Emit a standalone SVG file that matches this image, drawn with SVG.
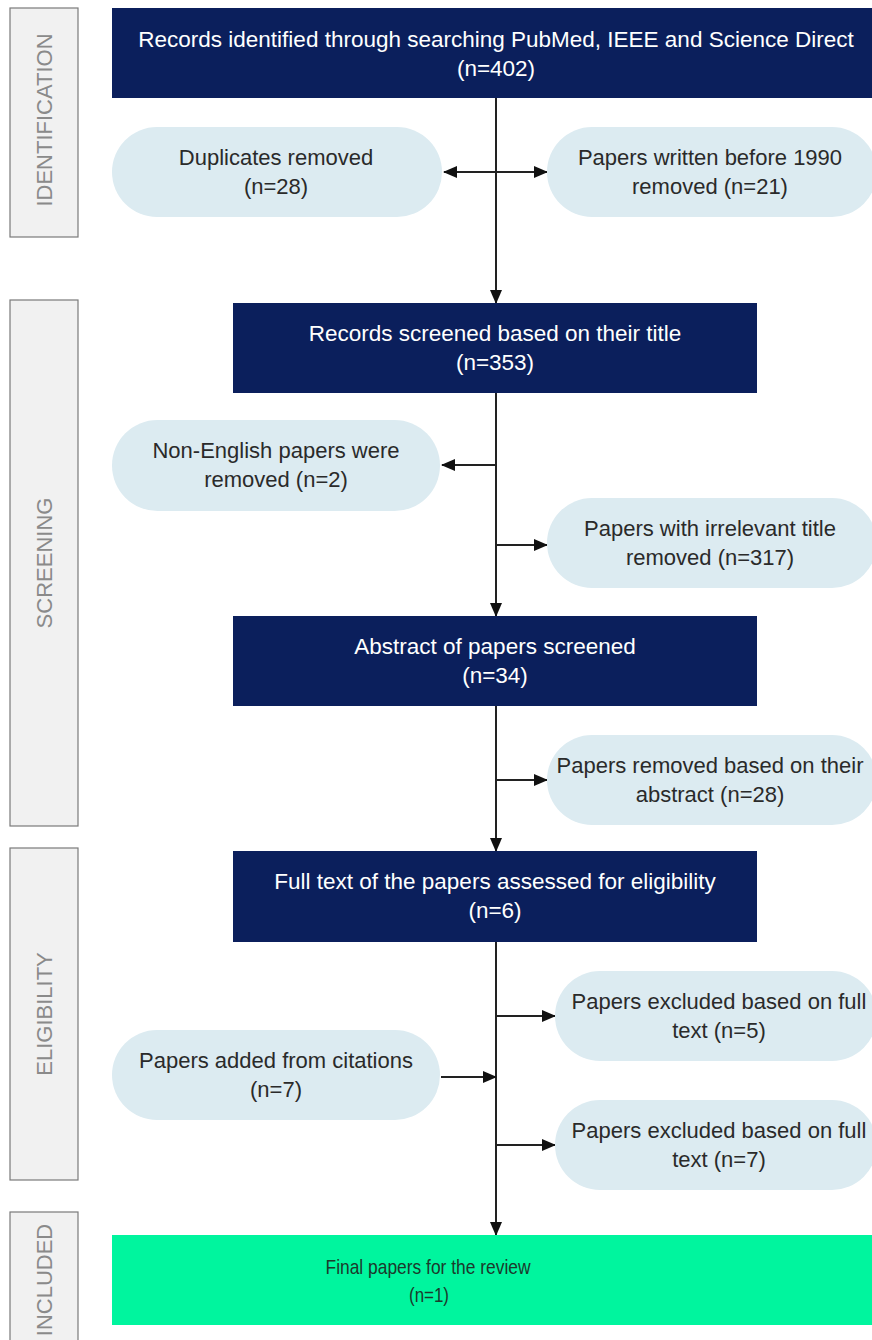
<svg xmlns="http://www.w3.org/2000/svg" width="872" height="1340" viewBox="0 0 872 1340">
<style>
.stage{fill:#f1f1f1;stroke:#7a7a7a;stroke-width:1.2}
.stxt{font-family:"Liberation Sans",Arial,sans-serif;font-size:22px;fill:#8a8a8a;text-anchor:middle}
.main{fill:#0b1f5c}
.mtxt{font-family:"Liberation Sans",Arial,sans-serif;font-size:22.5px;fill:#ffffff;text-anchor:middle}
.pill{fill:#dcebf1}
.ptxt{font-family:"Liberation Sans",Arial,sans-serif;font-size:22px;fill:#2a2a2a;text-anchor:middle}
.conn{stroke:#222;stroke-width:2;fill:none}
.ftxt{font-family:"Liberation Sans",Arial,sans-serif;font-size:21px;fill:#1c3a2c;text-anchor:middle}
</style>
<defs>
<marker id="ah" markerWidth="14" markerHeight="12" refX="13" refY="6" orient="auto" markerUnits="userSpaceOnUse">
<path d="M0,0 L14,6 L0,12 Z" fill="#111"/>
</marker>
<marker id="ahs" markerWidth="14" markerHeight="12" refX="1" refY="6" orient="auto" markerUnits="userSpaceOnUse">
<path d="M14,0 L0,6 L14,12 Z" fill="#111"/>
</marker>
</defs>
<rect width="872" height="1340" fill="#ffffff"/>

<g id="stage-identification">
<rect class="stage" x="10" y="8" width="68" height="229"/>
<text class="stxt" transform="translate(52,120) rotate(-90)">IDENTIFICATION</text>
</g>
<g id="stage-screening">
<rect class="stage" x="10" y="300" width="68" height="526"/>
<text class="stxt" transform="translate(52,563) rotate(-90)">SCREENING</text>
</g>
<g id="stage-eligibility">
<rect class="stage" x="10" y="848" width="68" height="332"/>
<text class="stxt" transform="translate(52,1014) rotate(-90)">ELIGIBILITY</text>
</g>
<g id="stage-included">
<rect class="stage" x="10" y="1212" width="68" height="140"/>
<text class="stxt" transform="translate(52,1280) rotate(-90)">INCLUDED</text>
</g>

<g id="connectors">
<line class="conn" x1="496" y1="98" x2="496" y2="303" marker-end="url(#ah)"/>
<line class="conn" x1="444" y1="172" x2="547" y2="172" marker-start="url(#ahs)" marker-end="url(#ah)"/>
<line class="conn" x1="496" y1="393" x2="496" y2="616" marker-end="url(#ah)"/>
<line class="conn" x1="496" y1="465" x2="442" y2="465" marker-end="url(#ah)"/>
<line class="conn" x1="496" y1="545" x2="547" y2="545" marker-end="url(#ah)"/>
<line class="conn" x1="496" y1="706" x2="496" y2="851" marker-end="url(#ah)"/>
<line class="conn" x1="496" y1="780" x2="547" y2="780" marker-end="url(#ah)"/>
<line class="conn" x1="496" y1="942" x2="496" y2="1235" marker-end="url(#ah)"/>
<line class="conn" x1="496" y1="1016" x2="555" y2="1016" marker-end="url(#ah)"/>
<line class="conn" x1="441" y1="1077" x2="496" y2="1077" marker-end="url(#ah)"/>
<line class="conn" x1="496" y1="1145" x2="555" y2="1145" marker-end="url(#ah)"/>
</g>

<g id="n-records">
<rect class="main" x="112" y="8" width="760" height="90"/>
<text class="mtxt" x="496" y="47">Records identified through searching PubMed, IEEE and Science Direct</text>
<text class="mtxt" x="496" y="76">(n=402)</text>
</g>
<g id="n-duplicates">
<rect class="pill" x="112" y="127" width="330" height="90" rx="45"/>
<text class="ptxt" x="276" y="165">Duplicates removed</text>
<text class="ptxt" x="276" y="194">(n=28)</text>
</g>
<g id="n-before1990">
<rect class="pill" x="547" y="127" width="330" height="90" rx="45"/>
<text class="ptxt" x="710" y="165">Papers written before 1990</text>
<text class="ptxt" x="710" y="194">removed (n=21)</text>
</g>
<g id="n-screened">
<rect class="main" x="233" y="303" width="524" height="90"/>
<text class="mtxt" x="495" y="341">Records screened based on their title</text>
<text class="mtxt" x="495" y="370">(n=353)</text>
</g>
<g id="n-nonenglish">
<rect class="pill" x="112" y="420" width="328" height="91" rx="45.5"/>
<text class="ptxt" x="276" y="458">Non-English papers were</text>
<text class="ptxt" x="276" y="487">removed (n=2)</text>
</g>
<g id="n-irrelevant">
<rect class="pill" x="547" y="498" width="330" height="90" rx="45"/>
<text class="ptxt" x="710" y="536">Papers with irrelevant title</text>
<text class="ptxt" x="710" y="565">removed (n=317)</text>
</g>
<g id="n-abstract">
<rect class="main" x="233" y="616" width="524" height="90"/>
<text class="mtxt" x="495" y="654">Abstract of papers screened</text>
<text class="mtxt" x="495" y="683">(n=34)</text>
</g>
<g id="n-removed-abstract">
<rect class="pill" x="547" y="735" width="330" height="90" rx="45"/>
<text class="ptxt" x="710" y="773">Papers removed based on their</text>
<text class="ptxt" x="710" y="802">abstract (n=28)</text>
</g>
<g id="n-fulltext">
<rect class="main" x="233" y="851" width="524" height="91"/>
<text class="mtxt" x="495" y="889">Full text of the papers assessed for eligibility</text>
<text class="mtxt" x="495" y="918">(n=6)</text>
</g>
<g id="n-excluded5">
<rect class="pill" x="555" y="971" width="322" height="90" rx="45"/>
<text class="ptxt" x="719" y="1009">Papers excluded based on full</text>
<text class="ptxt" x="719" y="1038">text (n=5)</text>
</g>
<g id="n-citations">
<rect class="pill" x="112" y="1030" width="328" height="90" rx="45"/>
<text class="ptxt" x="276" y="1068">Papers added from citations</text>
<text class="ptxt" x="276" y="1097">(n=7)</text>
</g>
<g id="n-excluded7">
<rect class="pill" x="555" y="1100" width="322" height="90" rx="45"/>
<text class="ptxt" x="719" y="1138">Papers excluded based on full</text>
<text class="ptxt" x="719" y="1167">text (n=7)</text>
</g>
<g id="n-final">
<rect x="112" y="1235" width="760" height="90" fill="#00f59e"/>
<text class="ftxt" x="428" y="1274" textLength="205" lengthAdjust="spacingAndGlyphs">Final papers for the review</text>
<text class="ftxt" x="429" y="1302" textLength="40" lengthAdjust="spacingAndGlyphs">(n=1)</text>
</g>
</svg>
